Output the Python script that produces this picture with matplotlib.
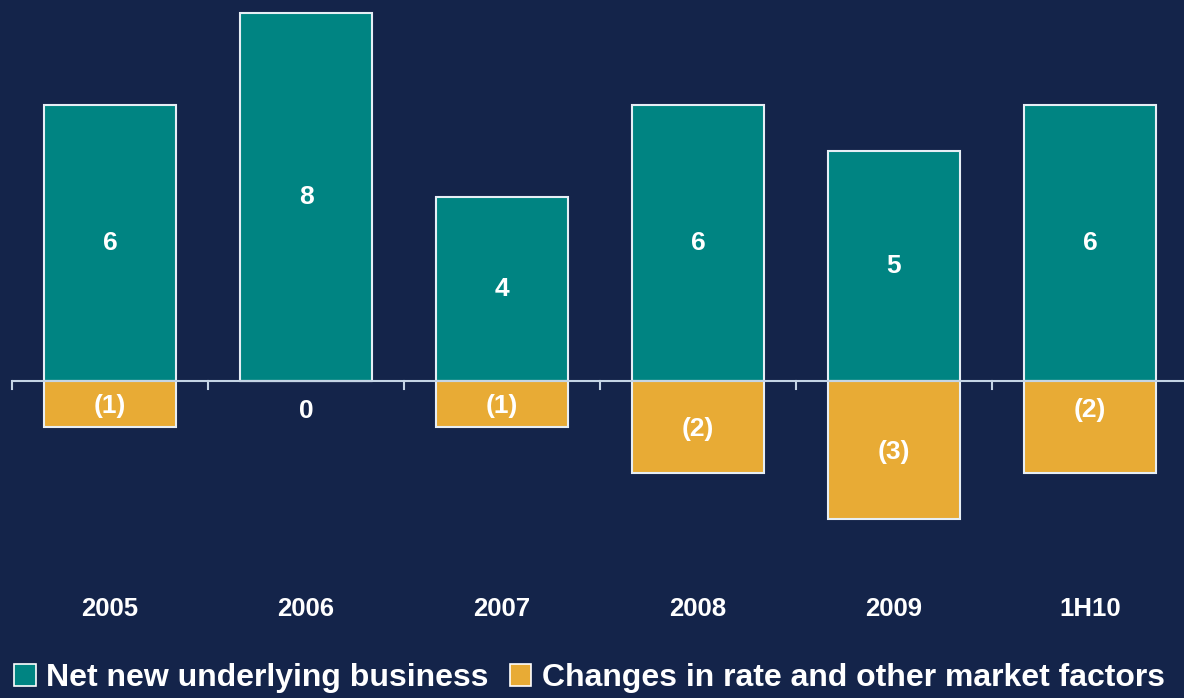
import numpy as np
import matplotlib.pyplot as plt
from matplotlib.patches import Patch

# Data
categories = ['2005', '2006', '2007', '2008', '2009', '1H10']
net_new = [6, 8, 4, 6, 5, 6]
market_changes = [-1, 0, -1, -2, -3, -2]
series_names = ['Net new underlying business', 'Changes in rate and other market factors']

bg = '#14244a'
teal = '#008482'
orange = '#e8ab35'
plt.rcParams['font.family'] = ['Liberation Sans', 'DejaVu Sans']

fig = plt.figure(figsize=(11.84, 6.98), dpi=100, facecolor=bg)
ax = fig.add_axes([12 / 1184, 0, 1176 / 1184, 1], facecolor=bg)

x = np.arange(len(categories))
w = 0.67
ax.bar(x, net_new, w, color=teal, edgecolor='#e6eef5', linewidth=1.5, zorder=2)
ax.bar(x, market_changes, w, color=orange, edgecolor='#e6eef5', linewidth=1.5, zorder=2)

# zero line with tick marks between categories
ax.axhline(0, color='#c5d5e5', lw=1.5, zorder=3)
for b in np.arange(-0.5, len(categories), 1.0):
    ax.plot([b, b], [0, -0.17], color='#c5d5e5', lw=1.5, zorder=3, clip_on=False)

# value labels
for i, v in enumerate(net_new):
    ax.text(i, v / 2, str(v), ha='center', va='center', color='white',
            fontsize=19, fontweight='bold', zorder=4)
for i, v in enumerate(market_changes):
    if v == 0:
        s, y = '0', -0.65
    else:
        s, y = '(%d)' % abs(v), v / 2 - 0.04
        if categories[i] == '1H10':
            y = -0.63
    ax.text(i, y, s, ha='center', va='center', color='white',
            fontsize=19, fontweight='bold', zorder=4)

# category labels
for i, c in enumerate(categories):
    ax.text(i, -4.96, c, ha='center', va='center', color='white',
            fontsize=18.5, fontweight='bold')

ax.set_xlim(-0.5, 5.5)
ax.set_ylim(-317 / 46, 381 / 46)
ax.axis('off')

handles = [Patch(facecolor=teal, edgecolor='white', linewidth=1.2),
           Patch(facecolor=orange, edgecolor='white', linewidth=1.2)]
leg = fig.legend(handles, series_names, loc='lower left', bbox_to_anchor=(-0.004, -0.02),
                 ncol=2, frameon=False, handlelength=0.68, handleheight=0.68,
                 handletextpad=0.32, columnspacing=0.65, borderaxespad=0.2,
                 prop={'size': 23, 'weight': 'bold'})
for t in leg.get_texts():
    t.set_color('white')

fig.savefig('out.png', dpi=100, facecolor=bg)
